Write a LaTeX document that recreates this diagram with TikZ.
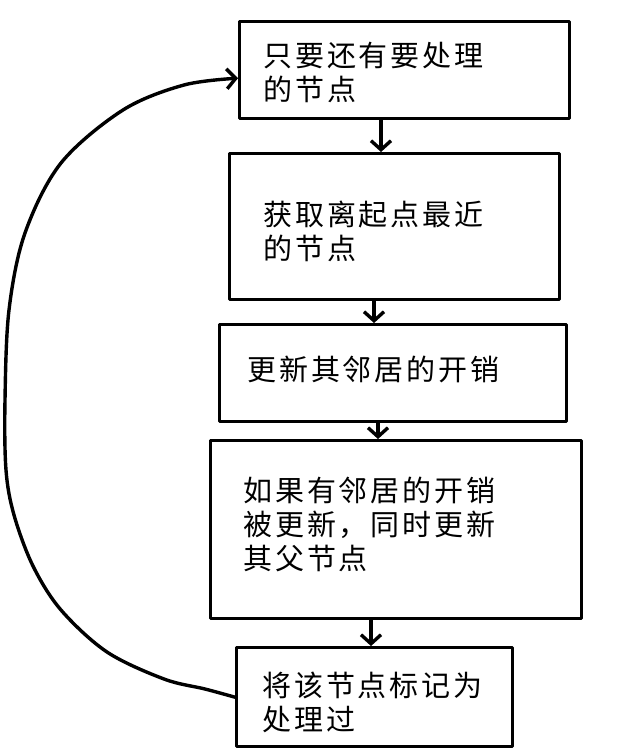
\documentclass[tikz,border=0pt]{standalone}
\usepackage{fontspec}
\newfontfamily\cjk{Noto Sans CJK SC}[LetterSpace=10]
\usetikzlibrary{arrows.meta,calc}
\begin{document}
\begin{tikzpicture}[x=1pt,y=-1pt,
  box/.style={draw, line width=3.4pt, rectangle, line join=round, inner sep=0pt, anchor=north west},
  txt/.style={align=left, inner sep=0pt, anchor=west, font=\cjk\fontsize{29pt}{34pt}\selectfont},
  flow/.style={line width=3.4pt, line cap=round, -{Straight Barb[length=9pt,width=20pt]}}]
\useasboundingbox (0,0) rectangle (641,752);
\fill[white] (0,0) rectangle (641,752);
% boxes
\node[box, minimum width=330pt, minimum height=97pt]  (b1) at (238,20)  {};
\node[box, minimum width=330pt, minimum height=146pt] (b2) at (228,152) {};
\node[box, minimum width=347pt, minimum height=97pt]  (b3) at (218,323) {};
\node[box, minimum width=371pt, minimum height=178pt] (b4) at (209,439) {};
\node[box, minimum width=276pt, minimum height=99pt]  (b5) at (235,646) {};
% texts
\node[txt] (t1) at ($(b1.west)+(25,2)$) {只要还有要处理\\的节点};
\node[txt] (t2) at ($(b2.west)+(35,5)$) {获取离起点最近\\的节点};
\node[txt] (t3) at ($(b3.west)+(29,-4)$) {更新其邻居的开销};
\node[txt] (t4) at ($(b4.west)+(34,-5)$) {如果有邻居的开销\\被更新，同时更新\\其父节点};
\node[txt] (t5) at ($(b5.west)+(27,5)$) {将该节点标记为\\处理过};
% vertical arrows
\coordinate (x1) at (381,0);
\coordinate (x2) at (374,0);
\coordinate (x3) at (378,0);
\coordinate (x4) at (371,0);
\draw[flow] (b1.south -| x1) -- (b2.north -| x1);
\draw[flow] (b2.south -| x2) -- (b3.north -| x2);
\draw[flow] (b3.south -| x3) -- (b4.north -| x3);
\draw[flow] (b4.south -| x4) -- (b5.north -| x4);
% loop back
\draw[flow] plot[smooth, tension=0.55] coordinates {(b5.west) (205,689) (164,679) (107,652) (61,610) (33,566) (14,515) (6,470) (5,400) (9,310) (25,233) (61,163) (123,110) (184,85) ([yshift=-8pt]b1.west)};
\end{tikzpicture}
\end{document}
